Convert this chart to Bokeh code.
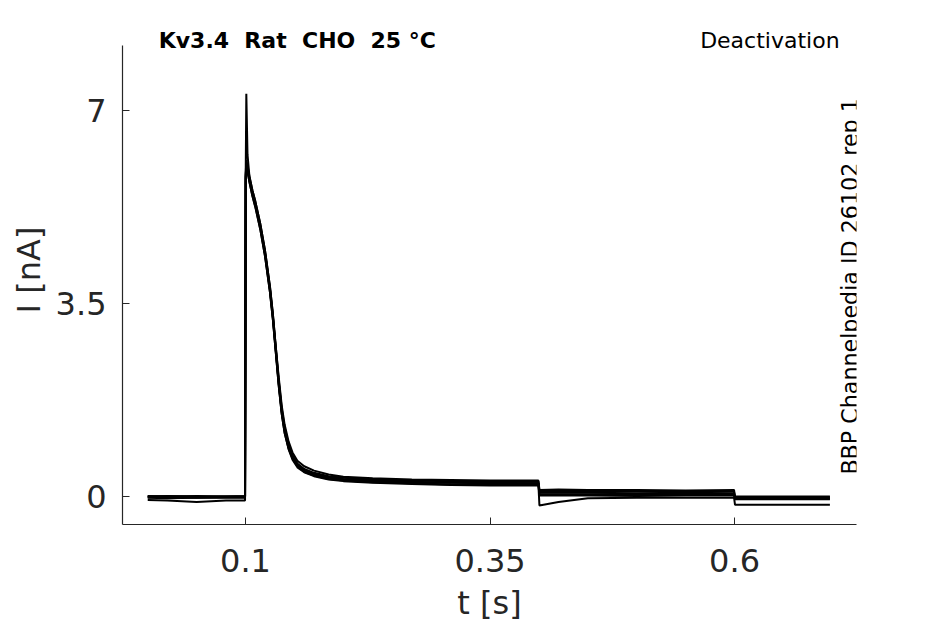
import math
from bokeh.plotting import figure
from bokeh.models import Range1d, FixedTicker, Label
from bokeh.embed import file_html
from bokeh.resources import INLINE

# ---------------- data ----------------
NBSP = "\u00a0"
title_left = "Kv3.4" + NBSP + " Rat" + NBSP + " CHO" + NBSP + " 25 °C"
title_right = "Deactivation"
side_text = "BBP Channelpedia ID 26102 rep 1"
x_label = "t [s]"
y_label = "I [nA]"

x_ticks = [0.1, 0.35, 0.6]
x_tick_labels = ["0.1", "0.35", "0.6"]
y_ticks = [0, 3.5, 7]
y_tick_labels = ["0", "3.5", "7"]

t = [0.0, 0.02, 0.05, 0.08, 0.0995, 0.1002, 0.1008, 0.102, 0.104, 0.107,
     0.11, 0.115, 0.12, 0.125, 0.128, 0.131, 0.134, 0.137, 0.14, 0.144,
     0.148, 0.153, 0.16, 0.17, 0.185, 0.2, 0.23, 0.27, 0.31, 0.35,
     0.3995, 0.4005, 0.42, 0.45, 0.5, 0.55, 0.5995, 0.6005, 0.65, 0.6975]

trace_a = [0.0, 0.01, 0.0, 0.0, 0.0, 5.9, 7.3, 6.2, 5.8, 5.55,
           5.35, 4.95, 4.45, 3.8, 3.3, 2.7, 2.1, 1.6, 1.25, 0.95,
           0.75, 0.6, 0.5, 0.43, 0.37, 0.34, 0.31, 0.29, 0.28, 0.27,
           0.27, 0.1, 0.1, 0.1, 0.09, 0.09, 0.09, 0.0, 0.0, 0.0]
trace_b = [0.01, 0.0, 0.01, 0.0, 0.01, 5.8, 6.05, 5.95, 5.75, 5.5,
           5.3, 4.9, 4.4, 3.75, 3.25, 2.65, 2.05, 1.55, 1.2, 0.9,
           0.72, 0.58, 0.48, 0.41, 0.35, 0.32, 0.29, 0.27, 0.25, 0.24,
           0.24, 0.07, 0.07, 0.07, 0.06, 0.07, 0.06, -0.01, -0.01, -0.01]
trace_c = [-0.01, -0.01, -0.02, -0.01, -0.01, 5.7, 5.95, 5.9, 5.7, 5.45,
           5.25, 4.85, 4.35, 3.7, 3.2, 2.6, 2.0, 1.5, 1.15, 0.87,
           0.69, 0.55, 0.45, 0.38, 0.32, 0.29, 0.26, 0.24, 0.22, 0.21,
           0.21, 0.04, 0.04, 0.04, 0.04, 0.03, 0.04, -0.03, -0.03, -0.03]
trace_d = [-0.02, -0.03, -0.02, -0.02, -0.02, 5.85, 6.1, 6.0, 5.8, 5.55,
           5.35, 4.95, 4.45, 3.8, 3.3, 2.7, 2.15, 1.65, 1.3, 1.0,
           0.8, 0.65, 0.55, 0.47, 0.4, 0.36, 0.33, 0.31, 0.3, 0.29,
           0.29, 0.12, 0.13, 0.12, 0.12, 0.11, 0.12, -0.04, -0.04, -0.04]
trace_e = [-0.06, -0.07, -0.1, -0.07, -0.07, 5.75, 6.0, 5.9, 5.7, 5.45,
           5.25, 4.85, 4.35, 3.7, 3.2, 2.6, 2.0, 1.5, 1.15, 0.86,
           0.67, 0.53, 0.44, 0.37, 0.31, 0.28, 0.25, 0.23, 0.21, 0.2,
           0.2, -0.16, -0.1, -0.03, -0.02, -0.02, -0.02, -0.15, -0.15, -0.15]
trace_f = [0.0, 0.0, -0.01, 0.0, 0.0, 5.8, 6.0, 5.95, 5.75, 5.5,
           5.3, 4.9, 4.4, 3.75, 3.25, 2.65, 2.05, 1.55, 1.2, 0.9,
           0.71, 0.57, 0.47, 0.4, 0.34, 0.31, 0.28, 0.26, 0.25, 0.25,
           0.24, 0.02, 0.02, 0.02, 0.01, 0.02, 0.02, -0.05, -0.05, -0.05]
traces = [trace_a, trace_b, trace_c, trace_d, trace_e, trace_f]

# ---------------- figure ----------------
FONT = "DejaVu Sans"
INK = "#262626"
Y_LO, Y_AXIS_TOP, Y_HI = -0.506, 8.175, 8.718
X_LO, X_HI = -0.0258, 0.7247

p = figure(width=937, height=624, output_backend="svg", toolbar_location=None,
           x_range=Range1d(X_LO, X_HI), y_range=Range1d(Y_LO, Y_HI),
           min_border_left=122, min_border_right=81, min_border_top=15,
           min_border_bottom=99)
p.outline_line_color = None
p.background_fill_color = "white"
p.border_fill_color = "white"
p.xgrid.grid_line_color = None
p.ygrid.grid_line_color = None

for tr in traces:
    p.line(t, tr, line_color="black", line_width=2)

for ax, ticks, labels in ((p.xaxis[0], x_ticks, x_tick_labels),
                          (p.yaxis[0], y_ticks, y_tick_labels)):
    ax.ticker = FixedTicker(ticks=ticks)
    ax.major_label_overrides = {tk: lb for tk, lb in zip(ticks, labels)}
    ax.minor_tick_line_color = None
    ax.major_tick_in = 7
    ax.major_tick_out = 0
    ax.axis_line_color = INK
    ax.major_tick_line_color = INK
    ax.axis_line_width = 1.2
    ax.major_label_text_font = FONT
    ax.major_label_text_font_size = "32px"
    ax.major_label_text_color = INK
    ax.axis_label_text_font = FONT
    ax.axis_label_text_font_size = "32px"
    ax.axis_label_text_font_style = "normal"
    ax.axis_label_text_color = INK

p.yaxis.bounds = (Y_LO, Y_AXIS_TOP)
p.xaxis.axis_label = x_label
p.yaxis.axis_label = y_label
p.xaxis.major_label_standoff = 24
p.xaxis.axis_label_standoff = 9
p.yaxis.major_label_standoff = 16
p.yaxis.axis_label_standoff = 5

p.add_layout(Label(x=0.0112, y=8.265, text=title_left, text_font=FONT,
                   text_font_size="22px", text_font_style="bold",
                   text_color="black", text_baseline="middle", text_align="left"))
p.add_layout(Label(x=0.7074, y=8.265, text=title_right, text_font=FONT,
                   text_font_size="22px", text_color="black",
                   text_baseline="middle", text_align="right"))
p.add_layout(Label(x=0.7176, y=0.398, text=side_text, text_font=FONT,
                   text_font_size="22.2px", text_color="black", angle=math.pi / 2,
                   text_baseline="middle", text_align="left"))

open("out.html", "w").write(file_html(p, INLINE))
